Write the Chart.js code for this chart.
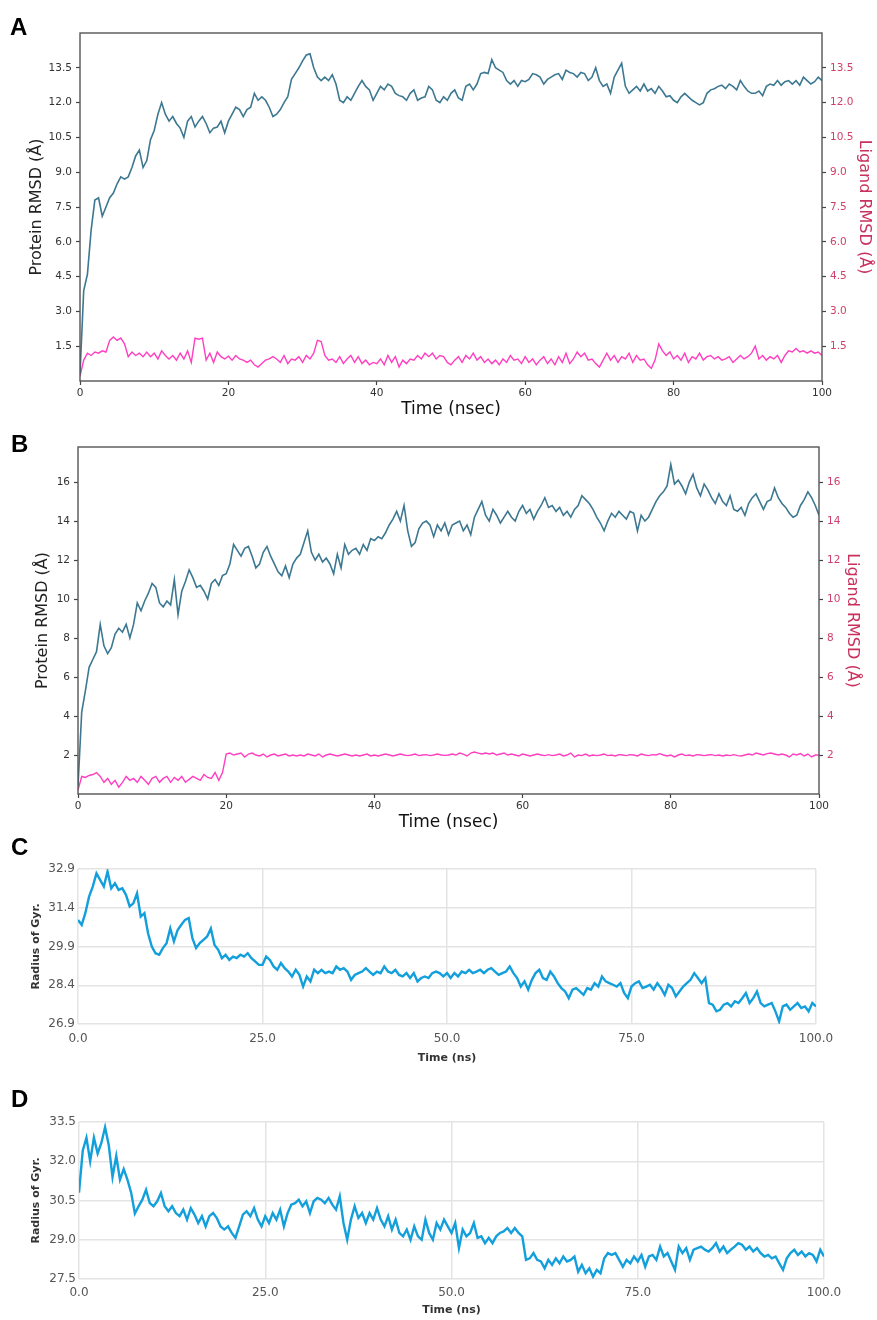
<!DOCTYPE html>
<html>
<head>
<meta charset="utf-8">
<script src="https://cdn.jsdelivr.net/npm/chart.js@4.4.1/dist/chart.umd.min.js"></script>
<style>
  body { margin: 0; background: #fff; }
  #page { position: relative; width: 877px; height: 1320px; }
  canvas { position: absolute; left: 0; }
  .tag { position: absolute; left: 10px; font: bold 24px "Liberation Sans", Arial, sans-serif; line-height: 24px; color: #000; z-index: 2; }
</style>
</head>
<body>
<div id="page">
  <div class="tag" style="top:15px">A</div>
  <div class="tag" style="top:432px;left:11px">B</div>
  <div class="tag" style="top:835px;left:11px">C</div>
  <div class="tag" style="top:1087px;left:11px">D</div>
  <canvas id="grafA" width="877" height="420" style="top:0"></canvas>
  <canvas id="grafB" width="877" height="415" style="top:420px"></canvas>
  <canvas id="grafC" width="877" height="245" style="top:830px"></canvas>
  <canvas id="grafD" width="877" height="240" style="top:1080px"></canvas>
</div>
<script>
// one sample every 0.5 ns, 0 .. 100 ns
const timeStep = 0.5;

const proteinA = [
  0.3, 3.9, 4.6, 6.5, 7.8, 7.9, 7.1, 7.5, 7.9, 8.1,
  8.5, 8.8, 8.7, 8.8, 9.2, 9.7, 9.95, 9.2, 9.5, 10.4,
  10.8, 11.5, 12.0, 11.5, 11.2, 11.4, 11.1, 10.9, 10.5, 11.2,
  11.4, 10.95, 11.2, 11.4, 11.1, 10.7, 10.9, 10.95, 11.2, 10.7,
  11.2, 11.5, 11.8, 11.7, 11.4, 11.7, 11.8, 12.4, 12.1, 12.25,
  12.1, 11.8, 11.4, 11.5, 11.7, 12.0, 12.25, 13.0, 13.25, 13.5,
  13.8, 14.05, 14.1, 13.5, 13.1, 12.95, 13.1, 12.95, 13.2, 12.8,
  12.1, 12.0, 12.25, 12.1, 12.4, 12.7, 12.95, 12.7, 12.55, 12.1,
  12.4, 12.7, 12.55, 12.8, 12.7, 12.4, 12.3, 12.25, 12.1, 12.4,
  12.55, 12.1, 12.2, 12.25, 12.7, 12.55, 12.1, 12.0, 12.25, 12.1,
  12.4, 12.55, 12.2, 12.1, 12.7, 12.8, 12.55, 12.8, 13.25, 13.3,
  13.25, 13.85, 13.5, 13.4, 13.3, 12.95, 12.8, 12.95, 12.7, 12.95,
  12.9, 13.0, 13.25, 13.2, 13.1, 12.8, 13.0, 13.1, 13.2, 13.25,
  13.0, 13.4, 13.3, 13.25, 13.1, 13.3, 13.25, 12.95, 13.1, 13.5,
  12.95, 12.7, 12.8, 12.4, 13.1, 13.4, 13.7, 12.7, 12.4, 12.55,
  12.7, 12.5, 12.8, 12.5, 12.6, 12.4, 12.7, 12.5, 12.25, 12.3,
  12.1, 12.0, 12.25, 12.4, 12.25, 12.1, 12.0, 11.9, 12.0, 12.4,
  12.55, 12.6, 12.7, 12.75, 12.6, 12.8, 12.7, 12.55, 12.95, 12.7,
  12.5, 12.4, 12.4, 12.5, 12.3, 12.7, 12.8, 12.75, 12.95, 12.75,
  12.9, 12.95, 12.8, 12.95, 12.75, 13.1, 12.95, 12.8, 12.9, 13.1,
  12.95
];

const ligandA = [
  0.2, 0.9, 1.2, 1.1, 1.25, 1.2, 1.3, 1.25, 1.75, 1.9,
  1.75, 1.85, 1.6, 1.05, 1.25, 1.1, 1.2, 1.05, 1.25, 1.05,
  1.2, 0.95, 1.3, 1.1, 0.95, 1.1, 0.9, 1.2, 0.95, 1.3,
  0.8, 1.85, 1.8, 1.85, 0.9, 1.2, 0.8, 1.25, 1.05, 0.95,
  1.07, 0.9, 1.1, 0.95, 0.9, 0.8, 0.9, 0.7, 0.6, 0.75,
  0.9, 0.95, 1.05, 0.95, 0.8, 1.1, 0.75, 0.95, 0.9, 1.05,
  0.8, 1.1, 0.95, 1.2, 1.75, 1.7, 1.1, 0.9, 0.95, 0.8,
  1.05, 0.75, 0.95, 1.1, 0.8, 1.05, 0.75, 0.9, 0.7, 0.8,
  0.75, 0.95, 0.7, 1.1, 0.8, 1.05, 0.6, 0.9, 0.75, 0.95,
  0.9, 1.1, 0.95, 1.2, 1.05, 1.2, 0.95, 1.1, 1.05, 0.8,
  0.7, 0.9, 1.05, 0.8, 1.1, 0.95, 1.2, 0.9, 1.05, 0.8,
  0.95, 0.75, 0.9, 0.7, 0.95, 0.8, 1.1, 0.9, 0.95, 0.75,
  1.05, 0.8, 0.95, 0.7, 0.9, 1.05, 0.75, 0.95, 0.7, 1.05,
  0.8, 1.2, 0.75, 0.95, 1.25, 1.05, 1.2, 0.9, 0.95, 0.75,
  0.6, 0.9, 1.2, 0.9, 1.1, 0.8, 1.05, 0.95, 1.2, 0.8,
  1.1, 0.9, 0.95, 0.7, 0.55, 0.9, 1.6, 1.3, 1.1, 1.25,
  0.95, 1.1, 0.9, 1.2, 0.8, 1.05, 0.95, 1.2, 0.9, 1.05,
  1.1, 0.95, 1.05, 0.9, 0.95, 1.05, 0.8, 0.95, 1.1, 0.95,
  1.05, 1.2, 1.5, 0.95, 1.1, 0.9, 1.05, 0.95, 1.1, 0.8,
  1.1, 1.3, 1.25, 1.4, 1.25, 1.3, 1.2, 1.3, 1.2, 1.25,
  1.1
];

const proteinB = [
  0.4, 4.2, 5.3, 6.5, 6.9, 7.3, 8.7, 7.6, 7.2, 7.5,
  8.2, 8.5, 8.3, 8.7, 8.0, 8.7, 9.8, 9.4, 9.9, 10.3,
  10.8, 10.6, 9.8, 9.6, 9.9, 9.7, 11.0, 9.2, 10.4, 10.9,
  11.5, 11.1, 10.6, 10.7, 10.4, 10.0, 10.8, 11.0, 10.7, 11.2,
  11.3, 11.8, 12.8, 12.5, 12.2, 12.6, 12.7, 12.2, 11.6, 11.8,
  12.4, 12.7, 12.2, 11.8, 11.4, 11.2, 11.7, 11.1, 11.8, 12.1,
  12.3, 12.9, 13.5, 12.4, 12.0, 12.3, 11.9, 12.1, 11.8, 11.3,
  12.3, 11.6, 12.8, 12.3, 12.5, 12.6, 12.3, 12.8, 12.5, 13.1,
  13.0, 13.2, 13.1, 13.4, 13.8, 14.1, 14.5, 14.0, 14.8, 13.5,
  12.7, 12.9, 13.6, 13.9, 14.0, 13.8, 13.2, 13.8, 13.5, 13.9,
  13.3, 13.8, 13.9, 14.0, 13.5, 13.8, 13.3, 14.2, 14.6, 15.0,
  14.3, 14.0, 14.6, 14.3, 13.9, 14.2, 14.5, 14.2, 14.0, 14.5,
  14.8, 14.4, 14.6, 14.1, 14.5, 14.8, 15.2, 14.7, 14.8, 14.5,
  14.7, 14.3, 14.5, 14.2, 14.6, 14.8, 15.3, 15.1, 14.9, 14.6,
  14.2, 13.9, 13.5, 14.0, 14.4, 14.2, 14.5, 14.3, 14.1, 14.5,
  14.4, 13.5, 14.3, 14.0, 14.2, 14.6, 15.0, 15.3, 15.5, 15.8,
  16.9, 15.9, 16.1, 15.8, 15.4, 16.0, 16.4, 15.7, 15.3, 15.9,
  15.6, 15.2, 14.9, 15.4, 15.0, 14.8, 15.3, 14.6, 14.5, 14.7,
  14.3, 14.9, 15.2, 15.4, 15.0, 14.6, 15.0, 15.1, 15.7, 15.2,
  14.9, 14.7, 14.4, 14.2, 14.3, 14.8, 15.1, 15.5, 15.2, 14.8,
  14.3
];

const ligandB = [
  0.2, 0.9, 0.85, 0.95, 1.0, 1.1, 0.9, 0.6, 0.8, 0.5,
  0.7, 0.35, 0.6, 0.9, 0.7, 0.8, 0.6, 0.9, 0.7, 0.5,
  0.8, 0.9, 0.6, 0.8, 0.9, 0.6, 0.85, 0.7, 0.9, 0.6,
  0.75, 0.9, 0.8, 0.7, 1.0, 0.85, 0.8, 1.1, 0.7, 1.1,
  2.05, 2.1, 2.0, 2.05, 2.1, 1.9, 2.05, 2.1, 2.0, 1.95,
  2.05, 1.9, 2.0, 2.05, 1.95, 2.0, 2.05, 1.95, 2.0, 1.95,
  2.0, 1.95, 2.05, 2.0, 1.95, 2.05, 1.9, 2.0, 2.05, 2.0,
  1.95, 2.0, 2.05, 2.0, 1.95, 2.0, 1.95, 2.0, 2.05, 1.95,
  2.0, 1.95, 2.0, 2.05, 2.0, 1.95, 2.0, 2.05, 2.0, 1.97,
  2.0, 2.05, 1.97, 2.0, 2.02, 1.97, 2.0, 2.05, 2.0, 1.98,
  2.0, 2.05, 2.0, 2.1, 2.05, 1.95, 2.1, 2.15, 2.1, 2.05,
  2.1, 2.05, 2.1, 2.0, 2.05, 2.1, 2.0, 2.05, 2.0, 1.95,
  2.05, 2.0, 1.95, 2.0, 2.05, 2.0, 1.97, 2.02, 1.97, 2.0,
  2.05, 1.95, 2.0, 2.1, 1.9, 2.0, 1.97, 2.05, 1.95, 2.0,
  1.97, 2.0, 2.05, 1.97, 2.0, 1.95, 2.02, 2.0, 1.97, 2.02,
  2.0, 1.95, 2.05, 2.0, 1.97, 2.02, 2.0, 2.07, 2.0, 1.95,
  2.0, 1.9, 2.0, 2.05, 1.97, 2.0, 1.95, 2.02, 2.0, 1.97,
  2.0, 2.02, 1.97, 2.0, 1.95, 2.0, 1.97, 2.02, 1.97, 1.95,
  2.0, 2.05, 2.0, 2.1, 2.05, 2.0, 2.07, 2.1, 2.05, 2.0,
  2.05, 2.0, 1.9, 2.05, 2.0, 2.07, 1.95, 2.05, 1.9, 2.0,
  2.0
];

const gyrationC = [
  30.93, 30.74, 31.2, 31.83, 32.22, 32.73, 32.48, 32.22, 32.8, 32.15,
  32.35, 32.09, 32.15, 31.9, 31.45, 31.57, 31.96, 31.06, 31.19, 30.4,
  29.9, 29.64, 29.58, 29.84, 30.03, 30.6, 30.1, 30.54, 30.74, 30.93,
  31.0, 30.22, 29.84, 30.03, 30.16, 30.29, 30.6, 29.96, 29.77, 29.45,
  29.58, 29.38, 29.51, 29.45, 29.58, 29.51, 29.64, 29.45, 29.32, 29.19,
  29.19, 29.51, 29.38, 29.13, 29.0, 29.26, 29.06, 28.93, 28.74, 29.0,
  28.8, 28.35, 28.74, 28.55, 29.0, 28.87, 29.0, 28.87, 28.93, 28.87,
  29.13, 29.0, 29.06, 28.93, 28.61, 28.8, 28.87, 28.93, 29.06, 28.93,
  28.8, 28.93, 28.87, 29.13, 28.93, 28.87, 29.0, 28.8, 28.74, 28.87,
  28.68, 28.87, 28.55, 28.68, 28.74, 28.68, 28.87, 28.93, 28.87, 28.74,
  28.87, 28.68, 28.87, 28.74, 28.93, 28.87, 29.0, 28.87, 28.93, 29.0,
  28.87, 29.0, 29.06, 28.93, 28.8, 28.87, 28.93, 29.13, 28.87, 28.68,
  28.35, 28.55, 28.23, 28.61, 28.87, 29.0, 28.68, 28.61, 28.93, 28.74,
  28.48, 28.29, 28.16, 27.9, 28.23, 28.29, 28.16, 28.03, 28.29, 28.23,
  28.48, 28.35, 28.74, 28.55, 28.48, 28.42, 28.35, 28.48, 28.1, 27.9,
  28.35, 28.48, 28.55, 28.29, 28.35, 28.42, 28.23, 28.48, 28.29, 28.03,
  28.42, 28.29, 27.97, 28.16, 28.35, 28.48, 28.61, 28.87, 28.68, 28.48,
  28.68, 27.71, 27.65, 27.39, 27.45, 27.65, 27.71, 27.58, 27.78, 27.71,
  27.9, 28.1, 27.71, 27.9, 28.16, 27.71, 27.58, 27.65, 27.71, 27.39,
  27.0, 27.58, 27.65, 27.45, 27.58, 27.71, 27.52, 27.58, 27.39, 27.71,
  27.58
];

const gyrationD = [
  30.8, 32.4, 32.9, 32.0, 32.9, 32.3, 32.7, 33.3, 32.6, 31.4,
  32.2, 31.3, 31.7, 31.3, 30.8, 30.0, 30.28, 30.53, 30.91, 30.4,
  30.28, 30.47, 30.79, 30.28, 30.09, 30.28, 30.02, 29.9, 30.15, 29.77,
  30.21, 29.96, 29.64, 29.9, 29.51, 29.9, 30.02, 29.83, 29.51, 29.39,
  29.51, 29.26, 29.07, 29.51, 29.96, 30.09, 29.9, 30.21, 29.77, 29.51,
  29.9, 29.64, 30.02, 29.77, 30.15, 29.51, 30.02, 30.34, 30.4, 30.53,
  30.28, 30.47, 30.02, 30.47, 30.6, 30.53, 30.4, 30.6, 30.34, 30.15,
  30.66, 29.64, 29.0, 29.77, 30.28, 29.83, 30.02, 29.64, 30.02, 29.77,
  30.21, 29.77, 29.51, 29.9, 29.39, 29.77, 29.26, 29.13, 29.39, 29.0,
  29.51, 29.13, 29.0, 29.77, 29.26, 29.0, 29.64, 29.39, 29.77, 29.51,
  29.26, 29.64, 28.68, 29.39, 29.13, 29.26, 29.64, 29.07, 29.13, 28.87,
  29.07, 28.87, 29.13, 29.26, 29.32, 29.45, 29.26, 29.45, 29.26, 29.13,
  28.23, 28.29, 28.49, 28.23, 28.17, 27.91, 28.23, 28.04, 28.29, 28.1,
  28.36, 28.17, 28.23, 28.36, 27.78, 28.04, 27.72, 27.91, 27.59, 27.85,
  27.72, 28.29, 28.49, 28.42, 28.49, 28.23, 27.97, 28.23, 28.1, 28.36,
  28.17, 28.42, 27.97, 28.36, 28.42, 28.23, 28.74, 28.36, 28.49, 28.17,
  27.85, 28.74, 28.49, 28.68, 28.23, 28.62, 28.68, 28.74, 28.62, 28.55,
  28.68, 28.87, 28.55, 28.74, 28.49, 28.62, 28.74, 28.87, 28.81, 28.62,
  28.74, 28.55, 28.68, 28.49, 28.36, 28.42, 28.29, 28.36, 28.1, 27.85,
  28.29, 28.49, 28.62, 28.42, 28.55, 28.36, 28.49, 28.42, 28.17, 28.62,
  28.36
];

// tick labels
const rmsdTicksA = [1.5, 3.0, 4.5, 6.0, 7.5, 9.0, 10.5, 12.0, 13.5];
const rmsdTicksB = [2, 4, 6, 8, 10, 12, 14, 16];
const gyrTicksC = [26.9, 28.4, 29.9, 31.4, 32.9];
const gyrTicksD = [27.5, 29.0, 30.5, 32.0, 33.5];
const timeTicksRmsd = [0, 20, 40, 60, 80, 100];
const timeTicksGyr = [0, 25, 50, 75, 100];

const toPoints = (values) => values.map((v, i) => ({ x: i * timeStep, y: v }));
const fixTicks = (list) => (scale) => { scale.ticks = list.map((v) => ({ value: v })); };

// box around the plot area (matplotlib style)
const frame = {
    id: "frame",
    afterDraw(chart, args, opts) {
        const { ctx, chartArea: a } = chart;
        ctx.save();
        ctx.strokeStyle = opts.color;
        ctx.lineWidth = opts.width;
        ctx.strokeRect(a.left, a.top, a.right - a.left, a.bottom - a.top);
        ctx.restore();
    },
};

const axisDark = "#444";
const ligandRed = "#d0406a";

function rmsdChart(id, protein, ligand, yTicks, cfg) {
    const tickFont = { family: "DejaVu Sans", size: 10.5 };
    const markOnly = { drawOnChartArea: false, drawTicks: true, tickLength: 4, tickColor: axisDark, tickWidth: 1.2 };
    const yScale = (side) => ({
        type: "linear",
        position: side,
        min: 0,
        max: cfg.max,
        afterBuildTicks: fixTicks(yTicks),
        afterFit: (s) => { s.width = side === "left" ? cfg.left : cfg.right; },
        border: { display: false },
        grid: markOnly,
        ticks: {
            font: tickFont,
            color: side === "left" ? "#333" : ligandRed,
            padding: 4,
            autoSkip: false,
            callback: (v) => (cfg.decimals ? v.toFixed(1) : v),
        },
        title: {
            display: true,
            text: side === "left" ? "Protein RMSD (Å)" : "Ligand RMSD (Å)",
            color: side === "left" ? "#222" : "#c9315e",
            font: { family: "DejaVu Sans", size: 16 },
            padding: { top: side === "left" ? cfg.titleLeft : cfg.titleRight, bottom: 0 },
        },
    });

    new Chart(document.getElementById(id), {
        type: "line",
        data: {
            datasets: [
                { label: "Protein", data: toPoints(protein), borderColor: "#3c7891", borderWidth: 1.6, yAxisID: "y" },
                { label: "Ligand", data: toPoints(ligand), borderColor: "#ff3fc1", borderWidth: 1.4, yAxisID: "y2" },
            ],
        },
        options: {
            responsive: false,
            animation: false,
            elements: { point: { radius: 0 }, line: { tension: 0 } },
            layout: { padding: { top: cfg.top, left: 0, right: 0, bottom: 0 } },
            plugins: {
                legend: { display: false },
                tooltip: { enabled: false },
                frame: { color: "#555", width: 1.4 },
            },
            scales: {
                x: {
                    type: "linear",
                    min: 0,
                    max: 100,
                    afterBuildTicks: fixTicks(timeTicksRmsd),
                    afterFit: (s) => { s.height = cfg.bottom; },
                    border: { display: false },
                    grid: markOnly,
                    ticks: { font: tickFont, color: "#333", padding: 2, autoSkip: false, maxRotation: 0 },
                    title: {
                        display: true,
                        text: "Time (nsec)",
                        color: "#111",
                        font: { family: "DejaVu Sans", size: 17 },
                        padding: { top: 0, bottom: cfg.titleBottom },
                    },
                },
                y: yScale("left"),
                y2: yScale("right"),
            },
        },
        plugins: [frame],
    });
}

function gyrChart(id, values, yTicks, cfg) {
    const gridStyle = { color: "#e4e4e4", lineWidth: 1.5, drawTicks: false };
    const tickFont = { family: "DejaVu Sans", size: 12 };
    const titleFont = { family: "DejaVu Sans", size: 11, weight: "bold" };

    new Chart(document.getElementById(id), {
        type: "line",
        data: {
            datasets: [{ label: "Rg", data: toPoints(values), borderColor: "#129fdb", borderWidth: 2.4 }],
        },
        options: {
            responsive: false,
            animation: false,
            elements: { point: { radius: 0 }, line: { tension: 0 } },
            layout: { padding: { top: cfg.top, left: 0, right: cfg.right, bottom: 0 } },
            plugins: { legend: { display: false }, tooltip: { enabled: false } },
            scales: {
                x: {
                    type: "linear",
                    min: 0,
                    max: 100,
                    afterBuildTicks: fixTicks(timeTicksGyr),
                    afterFit: (s) => { s.height = cfg.bottom; },
                    border: { display: false },
                    grid: gridStyle,
                    ticks: { font: tickFont, color: "#555", padding: cfg.tickPad, autoSkip: false, maxRotation: 0, callback: (v) => v.toFixed(1) },
                    title: { display: true, text: "Time (ns)", color: "#333", font: titleFont, padding: { top: 0, bottom: cfg.titleBottom } },
                },
                y: {
                    type: "linear",
                    min: yTicks[0],
                    max: yTicks[yTicks.length - 1],
                    afterBuildTicks: fixTicks(yTicks),
                    afterFit: (s) => { s.width = cfg.left; },
                    border: { display: false },
                    grid: gridStyle,
                    ticks: { font: tickFont, color: "#555", padding: 3, autoSkip: false, callback: (v) => v.toFixed(1) },
                    title: { display: true, text: "Radius of Gyr.", color: "#333", font: titleFont, padding: { top: 30, bottom: 0 } },
                },
            },
        },
    });
}

rmsdChart("grafA", proteinA, ligandA, rmsdTicksA, {
    max: 15, decimals: true, top: 33, bottom: 39, left: 80, right: 55,
    titleLeft: 27, titleRight: 3, titleBottom: 0,
});
rmsdChart("grafB", proteinB, ligandB, rmsdTicksB, {
    max: 17.8, decimals: false, top: 27, bottom: 41, left: 78, right: 58,
    titleLeft: 33, titleRight: 15, titleBottom: 2,
});
gyrChart("grafC", gyrationC, gyrTicksC, { top: 39, bottom: 51, left: 78, right: 61, tickPad: 8, titleBottom: 10 });
gyrChart("grafD", gyrationD, gyrTicksD, { top: 42, bottom: 41, left: 79, right: 53, tickPad: 7, titleBottom: 3 });
</script>
</body>
</html>
